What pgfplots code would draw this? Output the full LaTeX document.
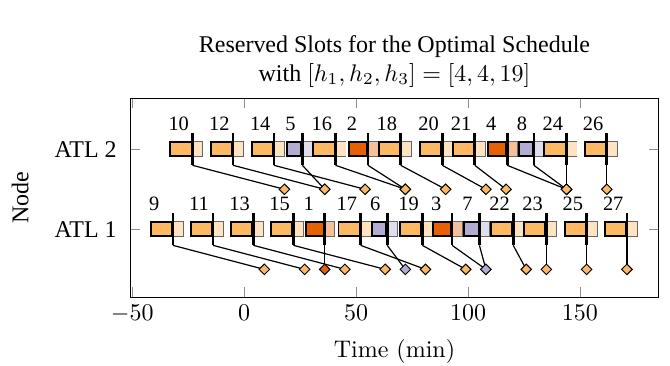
\documentclass[border=0pt]{standalone}
\usepackage{pgfplots}
\pgfplotsset{compat=1.18}
\usepackage{pgfplotstable}
\usepackage{fontspec}
\setmainfont{Liberation Serif}
\newfontfamily\lmr{Latin Modern Roman}
\definecolor{cO}{HTML}{FDB863}
\definecolor{cOl}{HTML}{FEE3C1}
\definecolor{cD}{HTML}{E66101}
\definecolor{cDl}{HTML}{F5C099}
\definecolor{cP}{HTML}{B2ABD2}
\definecolor{cPl}{HTML}{E0DDED}

% lab = flight, y = node (1 = ATL 1, 2 = ATL 2), m = reserved time, d = desired time
\pgfplotstableread{
lab y m d
9 1 -31.8 9
10 2 -23.1 18
11 1 -13.9 27
12 2 -5.0 36
13 1 4.1 45
14 2 13.3 54
15 1 22.0 63
16 2 40.8 72
17 1 52.0 81
18 2 69.9 90
19 1 79.6 99
20 2 88.5 108
21 2 103.0 117
22 1 120.2 126
23 1 135.0 135
24 2 144.0 144
25 1 153.0 153
26 2 162.0 162
27 1 171.0 171
}\tabO
\pgfplotstableread{
lab y m d
1 1 36.0 36
2 2 55.3 72
3 1 92.9 108
4 2 117.5 144
}\tabD
\pgfplotstableread{
lab y m d
5 2 26.0 36
6 1 63.9 72
7 1 105.1 108
8 2 129.4 144
}\tabP

\newcommand\lightparts[3]{% table, b, light colour
 \addplot[quiver={u=#2,v=0}, draw=black!60, line width=6.67pt, line cap=butt] table[x=m,y=y]{#1};
 \addplot[quiver={u=#2-0.86,v=0}, draw=#3, line width=5.87pt, line cap=butt] table[x expr=\thisrow{m}+0.43,y=y]{#1};
}
\newcommand\darkparts[3]{% table, a, colour
 \addplot[quiver={u=#2,v=0}, draw=black, line width=6.67pt, line cap=butt] table[x expr=\thisrow{m}-#2,y=y]{#1};
 \addplot[quiver={u=#2-1.72,v=0}, draw=#3, line width=5.07pt, line cap=butt] table[x expr=\thisrow{m}-#2+0.86,y=y]{#1};
}
\newcommand\marklines[1]{%
 \addplot[quiver={u=0,v=-0.4}, draw=black, line width=1.1pt, line cap=butt] table[x=m, y expr=\thisrow{y}+0.2]{#1};
 \addplot[quiver={u=\thisrow{d}-\thisrow{m},v=-0.3}, draw=black, line width=0.5pt] table[x=m, y expr=\thisrow{y}-0.2]{#1};
}
\newcommand\diamonds[2]{%
 \addplot[only marks, mark=square*, mark size=1.55pt, mark options={rotate=45, fill=#2, draw=black, line width=0.4pt}] table[x=d, y expr=\thisrow{y}-0.5]{#1};
}
\newcommand\labels[2]{%
 \addplot[draw=none, nodes near coords, point meta=explicit symbolic,
   nodes near coords align={anchor=base west},
   every node near coord/.append style={font=\fontsize{8.5}{10}\selectfont, inner sep=0pt, anchor=base west}]
   table[x expr=\thisrow{m}-#2-0.6, y expr=\thisrow{y}+0.235, meta=lab]{#1};
}

\begin{document}
\begin{tikzpicture}
\path[use as bounding box] (-54.17pt,-28.75pt) rectangle (225pt,123.75pt);
\begin{axis}[
  scale only axis, width=220.4pt, height=82.9pt,
  at={(0pt,0pt)}, anchor=south west,
  xmin=-51, xmax=185.3, ymin=0.155, ymax=2.64,
  xtick={-50,0,50,100,150},
  ytick={1,2}, yticklabels={ATL 1, ATL 2},
  major tick style={black!45},
  yticklabel style={xshift=-2pt},
  xlabel={{\lmr Time (min)}}, ylabel={Node},
  ylabel style={yshift=4pt},
  title={Reserved Slots for the Optimal Schedule\\with $[h_1,h_2,h_3]=[4,4,19]$},
  title style={align=center, yshift=-5pt},
]
\lightparts{\tabO}{4.9}{cOl}
\lightparts{\tabD}{4.7}{cDl}
\lightparts{\tabP}{4.6}{cPl}
\darkparts{\tabO}{10.3}{cO}
\darkparts{\tabD}{9.0}{cD}
\darkparts{\tabP}{7.2}{cP}
\marklines{\tabO}
\marklines{\tabD}
\marklines{\tabP}
\diamonds{\tabD}{cD}
\diamonds{\tabP}{cP}
\diamonds{\tabO}{cO}
\labels{\tabO}{10.3}
\labels{\tabD}{9.0}
\labels{\tabP}{7.2}
\end{axis}
\end{tikzpicture}
\end{document}
